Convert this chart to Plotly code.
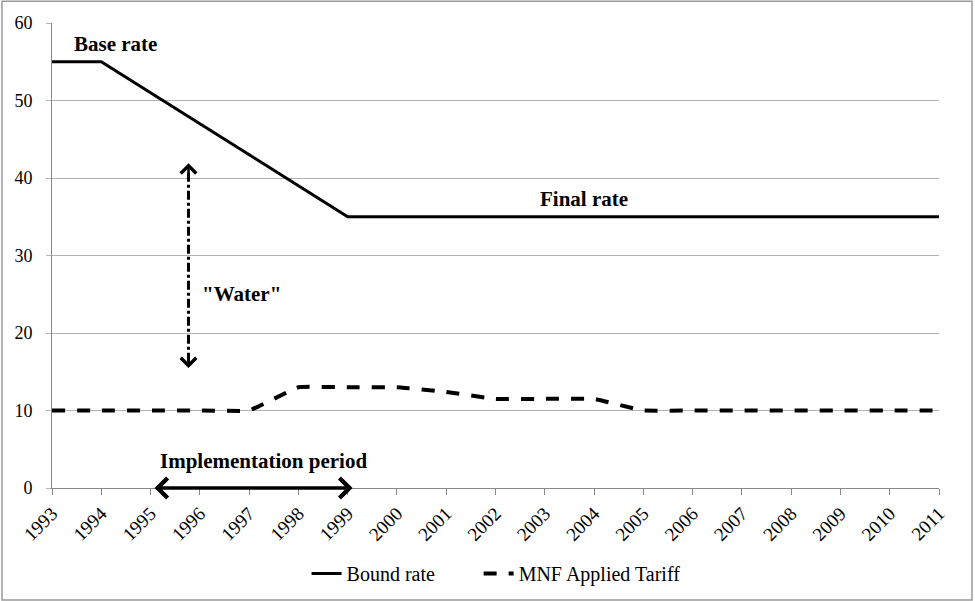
import plotly.graph_objects as go

years = list(range(1993, 2012))
bound_rate = [55, 55, 51, 47, 43, 39, 35, 35, 35, 35, 35, 35, 35, 35, 35, 35, 35, 35, 35]
mnf_tariff = [10, 10, 10, 10, 10, 13, 13, 13, 12.4, 11.5, 11.5, 11.5, 10, 10, 10, 10, 10, 10, 10]
y_ticks = [0, 10, 20, 30, 40, 50, 60]

FONT = "Liberation Serif, Times New Roman, serif"
GRID = "#b3b3b3"

fig = go.Figure()
fig.add_trace(go.Scatter(x=years, y=bound_rate, mode="lines", name="Bound rate",
                         line=dict(color="black", width=3), legend="legend"))
fig.add_trace(go.Scatter(x=years, y=mnf_tariff, mode="lines", name="MNF Applied Tariff",
                         line=dict(color="black", width=4, dash="13px,12px", shape="spline", smoothing=0.25),
                         legend="legend2"))

# text annotations
ann_font = dict(family=FONT, size=21, color="black")
fig.add_annotation(x=1994.28, y=57.3, text="<b>Base rate</b>", showarrow=False, font=ann_font)
fig.add_annotation(x=2003.8, y=37.3, text="<b>Final rate</b>", showarrow=False, font=ann_font)
fig.add_annotation(x=1996.0, y=25.0, text="<b>\"Water\"</b>", showarrow=False, font=ann_font, xanchor="left")
fig.add_annotation(x=1997.3, y=3.5, text="<b>Implementation period</b>", showarrow=False, font=ann_font)

# horizontal double arrow (implementation period)
fig.add_annotation(x=1999.1, y=0, ax=1995.05, ay=0, xref="x", yref="y", axref="x", ayref="y",
                   showarrow=True, arrowhead=4, startarrowhead=4, arrowside="end+start",
                   arrowwidth=3.5, arrowsize=1.1, startarrowsize=1.1, arrowcolor="black", text="")

# vertical dash-dot arrow ("Water")
fig.add_shape(type="line", x0=1995.77, x1=1995.77, y0=16.3, y1=40.8, xref="x", yref="y",
              line=dict(color="black", width=3, dash="dashdot"))
fig.add_annotation(x=1995.77, y=41.9, ax=1995.77, ay=39.8, xref="x", yref="y", axref="x", ayref="y",
                   showarrow=True, arrowhead=4, arrowwidth=2.5, arrowsize=1.2, arrowcolor="black", text="")
fig.add_annotation(x=1995.77, y=15.5, ax=1995.77, ay=17.6, xref="x", yref="y", axref="x", ayref="y",
                   showarrow=True, arrowhead=4, arrowwidth=2.5, arrowsize=1.2, arrowcolor="black", text="")

# outer frame
fig.add_shape(type="rect", xref="paper", yref="paper", x0=-0.0564, x1=1.0372, y0=-0.2409, y1=1.047,
              line=dict(color="#999999", width=1.5), fillcolor="rgba(0,0,0,0)", layer="below")

leg_common = dict(orientation="h", y=-0.184, xanchor="left", yanchor="middle",
                  font=dict(family=FONT, size=20), bgcolor="rgba(0,0,0,0)")
fig.update_layout(
    width=975, height=601,
    margin=dict(l=52, r=36, t=23, b=113, autoexpand=False),
    paper_bgcolor="white", plot_bgcolor="white",
    font=dict(family=FONT, size=20, color="black"),
    showlegend=True,
    legend=dict(x=0.287, **leg_common),
    legend2=dict(x=0.481, **leg_common),
)
fig.update_xaxes(range=[1993, 2011], tickmode="array", tickvals=years, ticktext=[str(y) for y in years],
                 tickangle=-45, ticks="outside", ticklen=6, tickcolor="#888888",
                 showline=True, linecolor="#888888", linewidth=1, showgrid=False, zeroline=False,
                 tickfont=dict(family=FONT, size=19), automargin=False)
fig.update_yaxes(range=[0, 60], tickvals=y_ticks, ticks="outside", ticklen=5, tickcolor=GRID,
                 showline=True, linecolor="#888888", linewidth=1, showgrid=True, gridcolor=GRID,
                 gridwidth=1, zeroline=False, tickfont=dict(family=FONT, size=18), automargin=False,
                 ticklabelstandoff=10)

fig.write_html("out.html", config={"displayModeBar": False},
               post_script="document.body.style.margin='0';")
